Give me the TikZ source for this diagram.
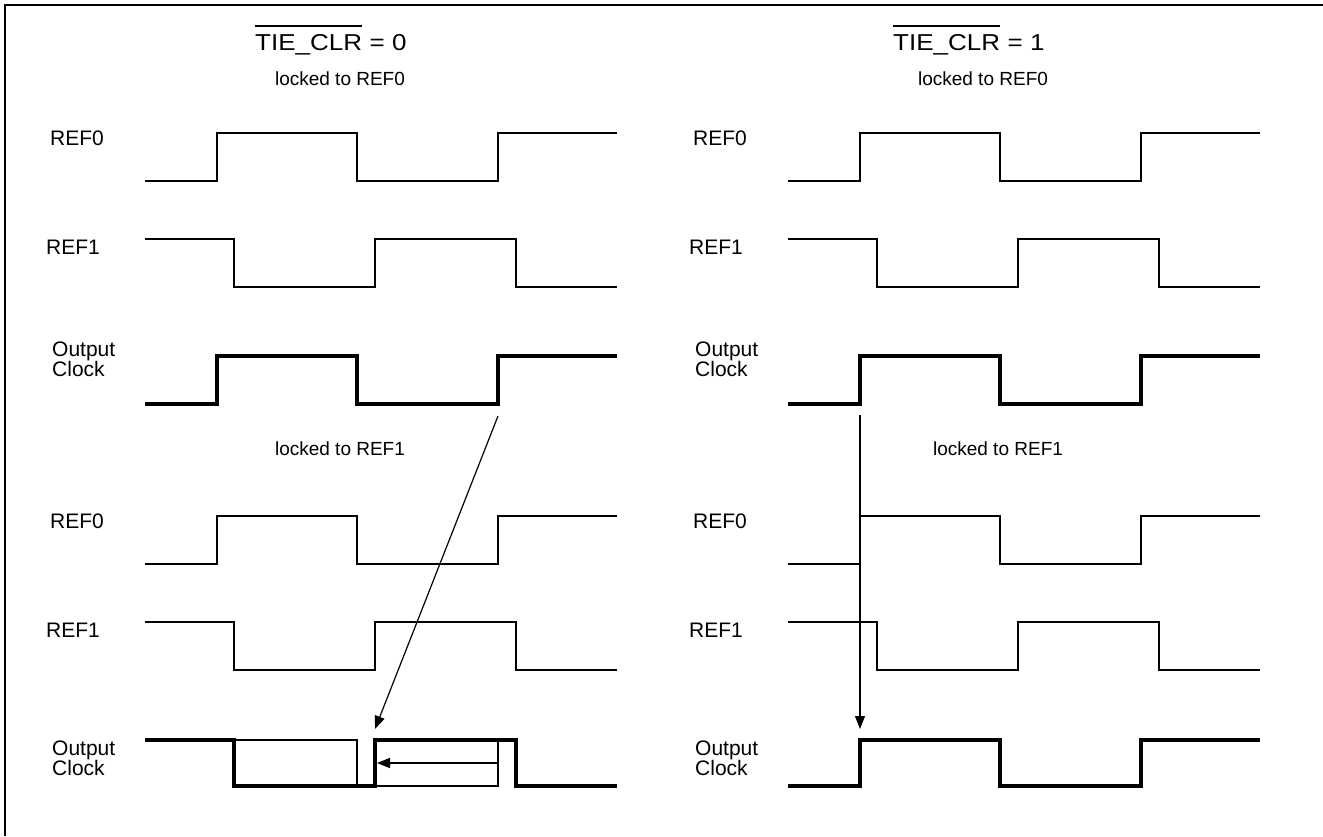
\documentclass[tikz,border=0pt]{standalone}
\usepackage{fontspec}
\setmainfont{Liberation Sans}
\usetikzlibrary{arrows.meta}
\begin{document}
\begin{tikzpicture}[x=1pt,y=-1pt,
  sig/.style={line width=2.6pt,line join=miter},
  clk/.style={line width=4.6pt,line join=miter},
  thinbox/.style={line width=1.6pt},
  arr/.style={line width=1.2pt,-{Triangle[length=13pt,width=10pt]}},
  lbl/.style={anchor=base west,inner sep=0pt,font=\fontsize{21}{24}\selectfont},
  lock/.style={anchor=base,inner sep=0pt,font=\fontsize{19}{22}\selectfont},
  ttl/.style={anchor=base west,inner sep=0pt,font=\fontsize{23}{26}\selectfont}]
\useasboundingbox (0,0) rectangle (1323,836);
% border
\draw[line width=2pt] (5,836) -- (5,5) -- (1323,5);
% titles
\node[ttl] (t0) at (255,50) {\scalebox{1.13}[1]{TIE\_CLR}};
\node[ttl] (e0) at (t0.base east) {\scalebox{1.13}[1]{ = 0}};
\draw[line width=1.6pt] ([yshift=8pt]t0.north west) -- ([yshift=8pt]t0.north east);
\node[ttl] (t1) at (893,50) {\scalebox{1.13}[1]{TIE\_CLR}};
\node[ttl] (e1) at (t1.base east) {\scalebox{1.13}[1]{ = 1}};
\draw[line width=1.6pt] ([yshift=8pt]t1.north west) -- ([yshift=8pt]t1.north east);
% locked labels
\node[lock] (l00) at (340,85) {locked to REF0};
\node[lock] (l10) at (983,85) {locked to REF0};
\node[lock] (l01) at (340,455) {locked to REF1};
\node[lock] (l11) at (998,455) {locked to REF1};
% signal labels and reference signals
\foreach \dx/\nm in {0/a,643/b}{
  \node[lbl] (oU\nm) at (52+\dx,356) {Output};
  \node[lbl] (cU\nm) at (52+\dx,376) {Clock};
  \node[lbl] (oD\nm) at (52+\dx,755) {Output};
  \node[lbl] (cD\nm) at (52+\dx,775) {Clock};
  \foreach \dy/\mm in {0/u,383/d}{
    \node[lbl] (r0\nm\mm) at (50+\dx,145+\dy) {REF0};
    \node[lbl] (r1\nm\mm) at (46+\dx,254+\dy) {REF1};
    % REF0
    \draw[sig] (145+\dx,181+\dy) -- (217+\dx,181+\dy) -- (217+\dx,133+\dy) -- (357+\dx,133+\dy) -- (357+\dx,181+\dy) -- (498+\dx,181+\dy) -- (498+\dx,133+\dy) -- (617+\dx,133+\dy);
    % REF1
    \draw[sig] (145+\dx,239+\dy) -- (234+\dx,239+\dy) -- (234+\dx,287+\dy) -- (375+\dx,287+\dy) -- (375+\dx,239+\dy) -- (516+\dx,239+\dy) -- (516+\dx,287+\dy) -- (617+\dx,287+\dy);
  }
}
% output clocks aligned to REF0
\draw[clk] (145,404) -- (217,404) -- (217,356) -- (357,356) -- (357,404) -- (498,404) -- (498,356) -- (617,356);
\draw[clk] (788,404) -- (860,404) -- (860,356) -- (1000,356) -- (1000,404) -- (1141,404) -- (1141,356) -- (1260,356);
\draw[clk] (788,786) -- (860,786) -- (860,740) -- (1000,740) -- (1000,786) -- (1141,786) -- (1141,740) -- (1260,740);
% output clock left, switched to REF1
\draw[clk] (145,740) -- (234,740) -- (234,786) -- (375,786) -- (375,740) -- (516,740) -- (516,786) -- (617,786);
\draw[thinbox] (234,740) rectangle (357,786);
\draw[thinbox] (375,740) rectangle (498,786);
% arrows
\coordinate (s0) at (498,416);
\coordinate (e0a) at (375,729);
\draw[arr] (s0) -- (e0a);
\coordinate (s1) at (498,763);
\coordinate (e1a) at (377,763);
\draw[arr] (s1) -- (e1a);
\coordinate (s2) at (860,415);
\coordinate (e2a) at (860,729);
\draw[arr] (s2) -- (e2a);
\end{tikzpicture}
\end{document}
